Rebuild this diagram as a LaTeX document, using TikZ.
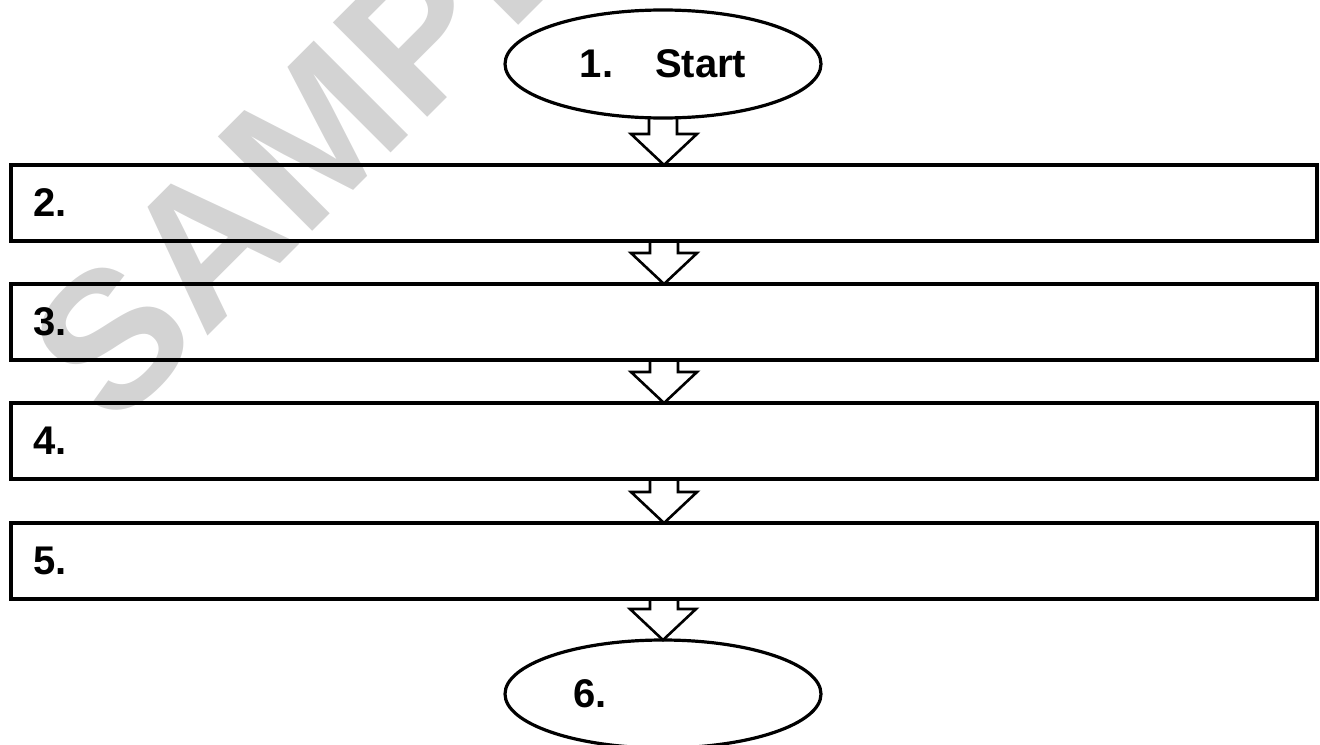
\documentclass[tikz,border=0pt]{standalone}
\usepackage{fontspec}
\setmainfont{Liberation Sans}
\usetikzlibrary{shapes,calc,positioning}

\definecolor{stampgray}{RGB}{211,211,211}
\tikzset{
  stepbox/.style={draw,line width=1.6pt,outer sep=0pt,minimum height=38pt,
    text width=631pt,inner xsep=11pt,align=left,
    font=\fontsize{20}{24}\selectfont\bfseries},
  terminal/.style={draw,ellipse,line width=1.6pt,outer sep=0pt,
    minimum width=158pt,minimum height=54pt,inner sep=0pt,
    font=\fontsize{20}{24}\selectfont\bfseries},
  hollowarrow/.style={draw,line width=1.3pt,line join=miter},
}
% hollow block arrow from the bottom of #1 to the top of #2
\newcommand{\flowarrow}[2]{%
  \draw[hollowarrow] ($(#1.south)+(-14,0)$) |- ($(#2.north)+(-33,-31)$)
    -- (#2.north) -- ($(#2.north)+(33,-31)$) -| ($(#1.south)+(14,0)$);}

\begin{document}
\begin{tikzpicture}[x=0.5pt,y=-0.5pt]
  \useasboundingbox (0,0) rectangle (1320,744);
  % Watermark behind the chart
  \node[rotate=45,text=stampgray,font=\fontsize{97}{100}\selectfont\bfseries] (stamp) at (352,98) {SAMPLE};
  % Start and end ovals
  \path (663,64) node[terminal] (S1) {1.\hspace{21pt}Start};
  \path (663,694) node[terminal] (S6) {\makebox[90pt][l]{6.}};
  % The four step boxes
  \path (664,203) node[stepbox] (B2) {2.};
  \path (664,322) node[stepbox] (B3) {3.};
  \path (664,441) node[stepbox] (B4) {4.};
  \path (664,561) node[stepbox] (B5) {5.};
  % Arrows between the steps
  \flowarrow{S1}{B2}
  \flowarrow{B2}{B3}
  \flowarrow{B3}{B4}
  \flowarrow{B4}{B5}
  \flowarrow{B5}{S6}
\end{tikzpicture}
\end{document}
